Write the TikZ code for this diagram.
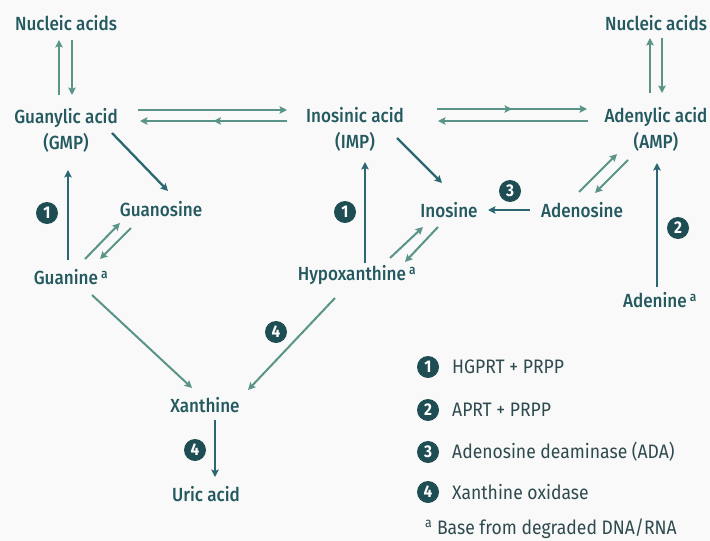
\documentclass[tikz,border=0pt]{standalone}
\usepackage{fontspec}
\setmainfont{Fira Sans}[FakeStretch=0.9]
\newfontfamily\medfont{Fira Sans Medium}[FakeStretch=0.9]
\usetikzlibrary{arrows.meta,decorations.markings}
\definecolor{bgc}{HTML}{F8F9F8}
\definecolor{txt}{HTML}{245960}
\definecolor{darkc}{HTML}{2B6770}
\definecolor{lightc}{HTML}{5A9488}
\definecolor{badgec}{HTML}{1E4D53}
\definecolor{legc}{HTML}{2F4A4F}
\tikzset{
  lbl/.style={text=txt, font=\medfont\fontsize{19}{26}\selectfont, align=center, inner sep=0pt},
  tipA/.tip={Stealth[length=7.5pt,width=7.5pt,inset=1.5pt]},
  darr/.style={draw=darkc, line width=2.3pt, -tipA},
  larr/.style={draw=lightc, line width=2pt, -tipA},
  midarr/.style={postaction={decorate}, decoration={markings, mark=at position 0.5 with {\arrow[color=lightc]{tipA}}}},
  badge/.style={circle, fill=badgec, text=white, inner sep=0pt, minimum size=22pt, font=\fontsize{17}{17}\selectfont\bfseries},
  legtxt/.style={anchor=west, text=legc, font=\fontsize{19.5}{22}\selectfont, inner sep=0pt}
}
\begin{document}
\begin{tikzpicture}[x=1pt,y=-1pt]
\fill[bgc] (0,0) rectangle (710,541);
\useasboundingbox (0,0) rectangle (710,541);
% labels
\node[lbl] (nucL) at (66,23) {Nucleic acids};
\node[lbl] (nucR) at (656,23) {Nucleic acids};
\node[lbl] (gmp) at (66,130) {Guanylic acid\\(GMP)};
\node[lbl] (imp) at (355,129) {Inosinic acid\\(IMP)};
\node[lbl] (amp) at (656,129) {Adenylic acid\\(AMP)};
\node[lbl] (guanosine) at (161,209) {Guanosine};
\node[lbl] (inosine) at (449,210) {Inosine};
\node[lbl] (adenosine) at (582,210) {Adenosine};
\node[lbl] (guanine) at (71,277) {Guanine\,\textsuperscript{a}};
\node[lbl] (hyp) at (357,275) {Hypoxanthine\,\textsuperscript{a}};
\node[lbl] (adenine) at (660,300) {Adenine\,\textsuperscript{a}};
\node[lbl] (xan) at (205,405) {Xanthine};
\node[lbl] (uric) at (206,494) {Uric acid};
% arrows
\draw[larr] ([shift={(-7,-35)}]gmp.center) -- ([shift={(-7,17)}]nucL.center);
\draw[larr] ([shift={(6,17)}]nucL.center) -- ([shift={(6,-35)}]gmp.center);
\draw[larr] ([shift={(-6,-36)}]amp.center) -- ([shift={(-6,15)}]nucR.center);
\draw[larr] ([shift={(6,15)}]nucR.center) -- ([shift={(6,-36)}]amp.center);
\draw[larr] ([shift={(72,-20)}]gmp.center) -- ([shift={(-68,-19)}]imp.center);
\draw[larr,midarr] ([shift={(-68,-8)}]imp.center) -- ([shift={(74,-9)}]gmp.center);
\draw[larr,midarr] ([shift={(82,-20)}]imp.center) -- ([shift={(-69,-20)}]amp.center);
\draw[larr] ([shift={(-68,-8)}]amp.center) -- ([shift={(83,-8)}]imp.center);
\draw[darr] ([shift={(46,3)}]gmp.center) -- ([shift={(7,-18)}]guanosine.center);
\draw[darr] ([shift={(-3,-17)}]guanine.center) -- ([shift={(2,40)}]gmp.center);
\draw[larr] ([shift={(14,-18)}]guanine.center) -- ([shift={(-41,14)}]guanosine.center);
\draw[larr] ([shift={(-30,19)}]guanosine.center) -- ([shift={(29,-18)}]guanine.center);
\draw[larr] ([shift={(21,18)}]guanine.center) -- ([shift={(-13,-17)}]xan.center);
\draw[larr] ([shift={(-22,23)}]hyp.center) -- ([shift={(43,-15)}]xan.center);
\draw[darr] ([shift={(10,15)}]xan.center) -- ([shift={(9,-17)}]uric.center);
\draw[darr] ([shift={(8,-12)}]hyp.center) -- ([shift={(10,33)}]imp.center);
\draw[darr] ([shift={(42,9)}]imp.center) -- ([shift={(-7,-27)}]inosine.center);
\draw[larr] ([shift={(33,-17)}]hyp.center) -- ([shift={(-26,17)}]inosine.center);
\draw[larr] ([shift={(-11,17)}]inosine.center) -- ([shift={(48,-13)}]hyp.center);
\draw[darr] ([shift={(-52,0)}]adenosine.center) -- ([shift={(39,0)}]inosine.center);
\draw[larr] ([shift={(-3,-18)}]adenosine.center) -- ([shift={(-39,25)}]amp.center);
\draw[larr] ([shift={(-28,31)}]amp.center) -- ([shift={(13,-17)}]adenosine.center);
\draw[darr] ([shift={(-3,-13)}]adenine.center) -- ([shift={(1,34)}]amp.center);
% badges
\node[badge] (b1a) at (47,213) {1};
\node[badge] (b1b) at (345,212) {1};
\node[badge] (b3) at (510,191) {3};
\node[badge] (b2) at (678,228) {2};
\node[badge] (b4a) at (276,332) {4};
\node[badge] (b4b) at (195,450) {4};
% legend
\node[badge] (l1) at (428,367) {1};
\node[badge] (l2) at (428,410) {2};
\node[badge] (l3) at (428,452) {3};
\node[badge] (l4) at (428,492) {4};
\node[legtxt] (t1) at (452,367) {HGPRT + PRPP};
\node[legtxt] (t2) at (452,410) {APRT + PRPP};
\node[legtxt] (t3) at (452,452) {Adenosine deaminase (ADA)};
\node[legtxt] (t4) at (452,492) {Xanthine oxidase};
\node[legtxt] (foot) at (425,529) {\textsuperscript{a} Base from degraded DNA/RNA};
\end{tikzpicture}
\end{document}
